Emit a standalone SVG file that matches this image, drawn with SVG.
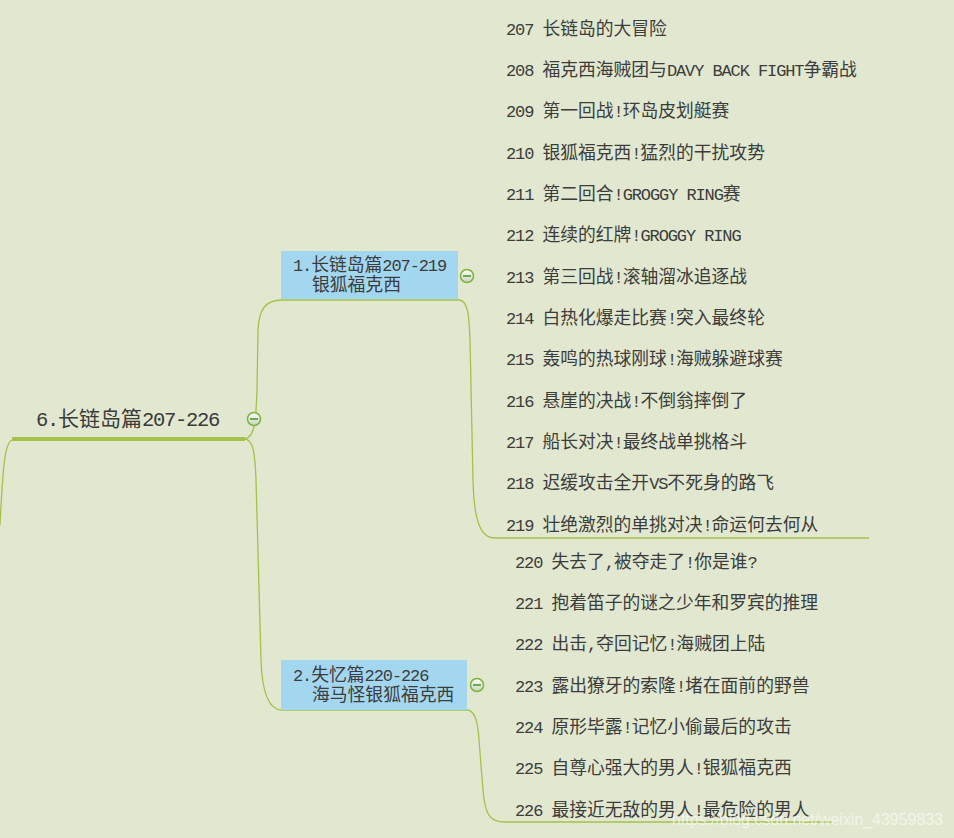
<svg xmlns="http://www.w3.org/2000/svg" width="954" height="838" viewBox="0 0 954 838">
<defs>
<style>
.t{font-family:"Liberation Mono","Noto Sans CJK SC",monospace;font-size:17.8px;fill:#3c3c3c}
.l{font-size:17px;letter-spacing:-1.1px}
.m{font-family:"Liberation Mono","Noto Sans CJK SC",monospace;font-size:21px;fill:#3a3a3a}
.ml{font-size:20.5px;letter-spacing:-1.3px}
.c{fill:none;stroke:#a2c24c;stroke-width:1.3}
.box{fill:#a3d7f0}
.btn circle{fill:url(#g);stroke:#7ab43a;stroke-width:1.5}
.btn line{stroke:#4d9a25;stroke-width:1.6}
.wm{font-family:"Liberation Sans",Arial,sans-serif;font-size:17px;fill:#ffffff;fill-opacity:0.6}
</style>
<linearGradient id="g" x1="0" y1="0" x2="0" y2="1">
<stop offset="0" stop-color="#ffffff"/>
<stop offset="1" stop-color="#c9d3c0"/>
</linearGradient>
</defs>
<rect width="954" height="838" fill="#e1e8cf"/>
<g id="connectors">
<path class="c" d="M12,440 C5,442 3,465 0,525"/>
<path class="c" d="M245,439 C255,437 256,420 257,390 L258,330 C259,310 265,300 282,300 L460,300"/>
<path class="c" d="M245,439 C253,440 255,452 256,480 L261,660 C262,690 268,710 282,710 L468,710"/>
<path class="c" d="M460,300 C468,302 469,315 470,340 L473,480 C474,520 480,538 495,538 L869,538"/>
<path class="c" d="M468,710 C476,712 478,725 479,740 L483,790 C485,815 490,822 505,822 L832,822"/>
<line x1="12" y1="439" x2="245" y2="439" stroke="#a2c24c" stroke-width="4"/>
</g>
<g id="root">
<text class="m" x="36" y="426"><tspan class="ml">6.</tspan>长链岛篇<tspan class="ml">207-226</tspan></text>
<g class="btn"><circle cx="254" cy="419" r="6.5"/><line x1="250" y1="419" x2="258" y2="419"/></g>
</g>
<g id="topic1">
<rect class="box" x="281" y="251" width="177" height="48"/>
<text class="t" x="293" y="271"><tspan class="l">1.</tspan>长链岛篇<tspan class="l">207-219</tspan></text>
<text class="t" x="312" y="291">银狐福克西</text>
<g class="btn"><circle cx="467" cy="276" r="6.5"/><line x1="463" y1="276" x2="471" y2="276"/></g>
</g>
<g id="topic2">
<rect class="box" x="281" y="660" width="186" height="50"/>
<text class="t" x="293" y="681"><tspan class="l">2.</tspan>失忆篇<tspan class="l">220-226</tspan></text>
<text class="t" x="312" y="701">海马怪银狐福克西</text>
<g class="btn"><circle cx="477" cy="685" r="6.5"/><line x1="473" y1="685" x2="481" y2="685"/></g>
</g>
<g id="items1">
<text class="t" x="506" y="34.5"><tspan class="l">207 </tspan>长链岛的大冒险</text>
<text class="t" x="506" y="75.8"><tspan class="l">208 </tspan>福克西海贼团与<tspan class="l">DAVY BACK FIGHT</tspan>争霸战</text>
<text class="t" x="506" y="117.1"><tspan class="l">209 </tspan>第一回战<tspan class="l">!</tspan>环岛皮划艇赛</text>
<text class="t" x="506" y="158.5"><tspan class="l">210 </tspan>银狐福克西<tspan class="l">!</tspan>猛烈的干扰攻势</text>
<text class="t" x="506" y="199.8"><tspan class="l">211 </tspan>第二回合<tspan class="l">!GROGGY RING</tspan>赛</text>
<text class="t" x="506" y="241.1"><tspan class="l">212 </tspan>连续的红牌<tspan class="l">!GROGGY RING</tspan></text>
<text class="t" x="506" y="282.5"><tspan class="l">213 </tspan>第三回战<tspan class="l">!</tspan>滚轴溜冰追逐战</text>
<text class="t" x="506" y="323.8"><tspan class="l">214 </tspan>白热化爆走比赛<tspan class="l">!</tspan>突入最终轮</text>
<text class="t" x="506" y="365.1"><tspan class="l">215 </tspan>轰鸣的热球刚球<tspan class="l">!</tspan>海贼躲避球赛</text>
<text class="t" x="506" y="406.5"><tspan class="l">216 </tspan>悬崖的决战<tspan class="l">!</tspan>不倒翁摔倒了</text>
<text class="t" x="506" y="447.8"><tspan class="l">217 </tspan>船长对决<tspan class="l">!</tspan>最终战单挑格斗</text>
<text class="t" x="506" y="489.1"><tspan class="l">218 </tspan>迟缓攻击全开<tspan class="l">VS</tspan>不死身的路飞</text>
<text class="t" x="506" y="530.5"><tspan class="l">219 </tspan>壮绝激烈的单挑对决<tspan class="l">!</tspan>命运何去何从</text>
</g>
<g id="items2">
<text class="t" x="515" y="567.5"><tspan class="l">220 </tspan>失去了<tspan class="l">,</tspan>被夺走了<tspan class="l">!</tspan>你是谁<tspan class="l">?</tspan></text>
<text class="t" x="515" y="608.8"><tspan class="l">221 </tspan>抱着笛子的谜之少年和罗宾的推理</text>
<text class="t" x="515" y="650.1"><tspan class="l">222 </tspan>出击<tspan class="l">,</tspan>夺回记忆<tspan class="l">!</tspan>海贼团上陆</text>
<text class="t" x="515" y="691.5"><tspan class="l">223 </tspan>露出獠牙的索隆<tspan class="l">!</tspan>堵在面前的野兽</text>
<text class="t" x="515" y="732.8"><tspan class="l">224 </tspan>原形毕露<tspan class="l">!</tspan>记忆小偷最后的攻击</text>
<text class="t" x="515" y="774.1"><tspan class="l">225 </tspan>自尊心强大的男人<tspan class="l">!</tspan>银狐福克西</text>
<text class="t" x="515" y="815.5"><tspan class="l">226 </tspan>最接近无敌的男人<tspan class="l">!</tspan>最危险的男人</text>
</g>
<text class="wm" x="672" y="825" textLength="271" lengthAdjust="spacingAndGlyphs">https://blog.csdn.net/weixin_43959833</text>
</svg>
